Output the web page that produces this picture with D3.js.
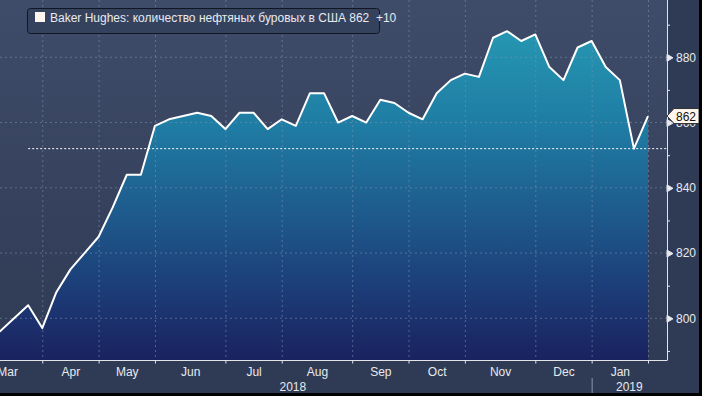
<!DOCTYPE html>
<meta charset="utf-8">
<style>
body { margin: 0; background: #2f3b55; }
svg { display: block; }
text { font-family: "Liberation Sans", Arial, sans-serif; }
.axis path, .axis line { stroke: #e2e4ea; }
.axis text { fill: #e8eaee; font-size: 12px; }
.grid line { stroke: #8093b3; stroke-opacity: 0.55; stroke-dasharray: 2,3; }
</style>
<svg width="702" height="396"></svg>
<script src="https://d3js.org/d3.v7.min.js"></script>
<script>

// weekly Baker Hughes oil rig count (first two weeks fall left of the visible window)
var dates = ["2018-02-23","2018-03-02","2018-03-09","2018-03-16","2018-03-23","2018-03-29",
  "2018-04-06","2018-04-13","2018-04-20","2018-04-27","2018-05-04","2018-05-11","2018-05-18","2018-05-25",
  "2018-06-01","2018-06-08","2018-06-15","2018-06-22","2018-06-29","2018-07-06","2018-07-13","2018-07-20",
  "2018-07-27","2018-08-03","2018-08-10","2018-08-17","2018-08-24","2018-08-31","2018-09-07","2018-09-14",
  "2018-09-21","2018-09-28","2018-10-05","2018-10-12","2018-10-19","2018-10-26","2018-11-02","2018-11-09",
  "2018-11-16","2018-11-21","2018-11-30","2018-12-07","2018-12-14","2018-12-21","2018-12-28","2019-01-04",
  "2019-01-11","2019-01-18","2019-01-25"];
var rigs = [799, 800, 796, 800, 804, 797, 808, 815, 820, 825, 834, 844, 844, 859, 861, 862, 863, 862,
  858, 863, 863, 858, 861, 859, 869, 869, 860, 862, 860, 867, 866, 863, 861, 869, 873, 875, 874, 886,
  888, 885, 887, 877, 873, 883, 885, 877, 873, 852, 862];
var monthNames = ["Jan","Feb","Mar","Apr","May","Jun","Jul","Aug","Sep","Oct","Nov","Dec"];
var yTicks = [800, 820, 840, 860, 880];
var yMinor = [790, 810, 830, 850, 870, 890];
var refLevel = 852, refFrom = "2018-03-23";
var legendText = "Baker Hughes: количество нефтяных буровых в США 862  +10";
var lastLabel = "862";

var svg = d3.select("svg"),
    W = +svg.attr("width"), H = +svg.attr("height"),
    plotW = 667, plotH = 360;

var data = dates.map(function(d, i) { return {i: i, date: d, v: rigs[i]}; });

var x = d3.scaleLinear().domain([2, data.length - 1]).range([0, 648]);
var y = d3.scaleLinear().domain([800, 880]).range([318.3, 57.3]);

var defs = svg.append("defs");
var bg = defs.append("linearGradient").attr("id", "bg")
    .attr("x1", 0).attr("y1", 0).attr("x2", 0).attr("y2", 1);
bg.append("stop").attr("offset", "0%").attr("stop-color", "#3f4c69");
bg.append("stop").attr("offset", "100%").attr("stop-color", "#2f3a54");

var fill = defs.append("linearGradient").attr("id", "fill")
    .attr("gradientUnits", "userSpaceOnUse")
    .attr("x1", 0).attr("y1", 30).attr("x2", 0).attr("y2", plotH);
[["0%", "#2597b2"], ["30%", "#1f7ba3"], ["55%", "#1e5b8d"], ["80%", "#1c3b76"], ["100%", "#1a2260"]]
  .forEach(function(s) { fill.append("stop").attr("offset", s[0]).attr("stop-color", s[1]); });

defs.append("clipPath").attr("id", "clip")
  .append("rect").attr("width", plotW).attr("height", plotH);

svg.append("rect").attr("width", W).attr("height", H).attr("fill", "#2f3b55");
svg.append("rect").attr("width", plotW).attr("height", plotH).attr("fill", "url(#bg)");

// month ends = last weekly point of each month
var monthEnds = data.filter(function(d, i) {
  return i === data.length - 1 || data[i + 1].date.slice(5, 7) !== d.date.slice(5, 7);
});
var monthMid = [];
for (var k = 1; k < monthEnds.length; k++) {
  monthMid.push({pos: (monthEnds[k - 1].i + monthEnds[k].i) / 2,
    name: monthNames[+monthEnds[k].date.slice(5, 7) - 1]});
}

var plot = svg.append("g").attr("clip-path", "url(#clip)");

var area = d3.area().x(function(d) { return x(d.i); }).y0(plotH).y1(function(d) { return y(d.v); });
var line = d3.line().x(function(d) { return x(d.i); }).y(function(d) { return y(d.v); });

plot.append("path").datum(data).attr("d", area).attr("fill", "url(#fill)");

// grid
plot.append("g").attr("class", "grid")
  .selectAll("line").data(yTicks).enter().append("line")
    .attr("x1", 0).attr("x2", plotW)
    .attr("y1", function(d) { return y(d); }).attr("y2", function(d) { return y(d); });
plot.append("g").attr("class", "grid")
  .selectAll("line").data(monthEnds).enter().append("line")
    .attr("y1", 0).attr("y2", plotH)
    .attr("x1", function(d) { return x(d.i) + 0.5; }).attr("x2", function(d) { return x(d.i) + 0.5; });

// reference level
var refI = dates.indexOf(refFrom);
plot.append("line")
    .attr("x1", x(refI)).attr("x2", plotW)
    .attr("y1", y(refLevel)).attr("y2", y(refLevel))
    .attr("stroke", "#ffffff").attr("stroke-dasharray", "2,2");

plot.append("path").datum(data).attr("d", line)
    .attr("fill", "none").attr("stroke", "#ffffff").attr("stroke-width", 2)
    .attr("stroke-linejoin", "round");

// right axis
var yAxis = svg.append("g").attr("class", "axis")
    .attr("transform", "translate(" + plotW + ",0)")
    .call(d3.axisRight(y).tickValues(yTicks).tickSize(0).tickPadding(9));
yAxis.select(".domain").remove();
yAxis.selectAll(".tick").append("path").attr("d", "M0,-3.5L6,0L0,3.5Z").attr("fill", "#e8eaee");
svg.append("g").attr("class", "axis")
    .attr("transform", "translate(" + plotW + ",0)")
    .call(d3.axisRight(y).tickValues(yMinor).tickSize(3).tickFormat(""))
    .select(".domain").remove();
svg.append("line").attr("x1", plotW + 0.5).attr("x2", plotW + 0.5).attr("y1", 0).attr("y2", plotH + 0.5)
    .attr("stroke", "#e2e4ea");

// bottom axis
var xTicks = svg.append("g").attr("class", "axis")
    .attr("transform", "translate(0," + (plotH + 0.5) + ")")
    .call(d3.axisBottom(x).tickValues(monthEnds.map(function(d) { return d.i; })).tickSize(3).tickFormat(""));
xTicks.select(".domain").attr("d", "M0,0H" + plotW);
svg.append("g").attr("class", "axis")
    .attr("transform", "translate(0," + (plotH + 2) + ")")
    .call(d3.axisBottom(x).tickValues(monthMid.map(function(d) { return d.pos; })).tickSize(0).tickPadding(5)
      .tickFormat(function(d, i) { return monthMid[i].name; }))
    .select(".domain").remove();

// year labels
var yearSplit = x(monthEnds.filter(function(d) { return d.date.slice(0, 4) === "2018"; }).pop().i);
svg.append("line").attr("x1", yearSplit + 0.5).attr("x2", yearSplit + 0.5).attr("y1", 378).attr("y2", 394)
    .attr("stroke", "#8a95a8");
svg.append("g").selectAll("text")
  .data([{t: "2018", x: yearSplit / 2 - 3}, {t: "2019", x: (yearSplit + plotW) / 2}])
  .enter().append("text")
    .attr("x", function(d) { return d.x; }).attr("y", 391)
    .attr("text-anchor", "middle").attr("fill", "#e8eaee").style("font-size", "12px")
    .text(function(d) { return d.t; });

// last value tag
var ly = y(rigs[rigs.length - 1]);
svg.append("path")
    .attr("d", "M" + plotW + "," + ly + "L" + (plotW + 7) + "," + (ly - 7.5) + "H699V" + (ly + 7.5) + "H" + (plotW + 7) + "Z")
    .attr("fill", "#fdf6ec").attr("stroke", "#333");
svg.append("text").attr("x", plotW + 19).attr("y", ly + 4.5).attr("text-anchor", "middle")
    .attr("fill", "#111").style("font-size", "12px").text(lastLabel);

// legend
svg.append("rect").attr("x", 27.5).attr("y", 8.5).attr("width", 352).attr("height", 25).attr("rx", 3)
    .attr("fill", "#35425e").attr("stroke", "#111722");
svg.append("rect").attr("x", 35).attr("y", 12).attr("width", 10).attr("height", 10).attr("fill", "#fff5f0");
svg.append("text").attr("x", 50).attr("y", 22).attr("fill", "#e8eaee").style("font-size", "12px")
    .style("white-space", "pre")
    .text(legendText);

// frame
svg.append("rect").attr("x", W - 3).attr("y", 0).attr("width", 3).attr("height", H).attr("fill", "#000");
svg.append("rect").attr("x", 0).attr("y", H - 3).attr("width", W).attr("height", 3).attr("fill", "#000");

</script>
